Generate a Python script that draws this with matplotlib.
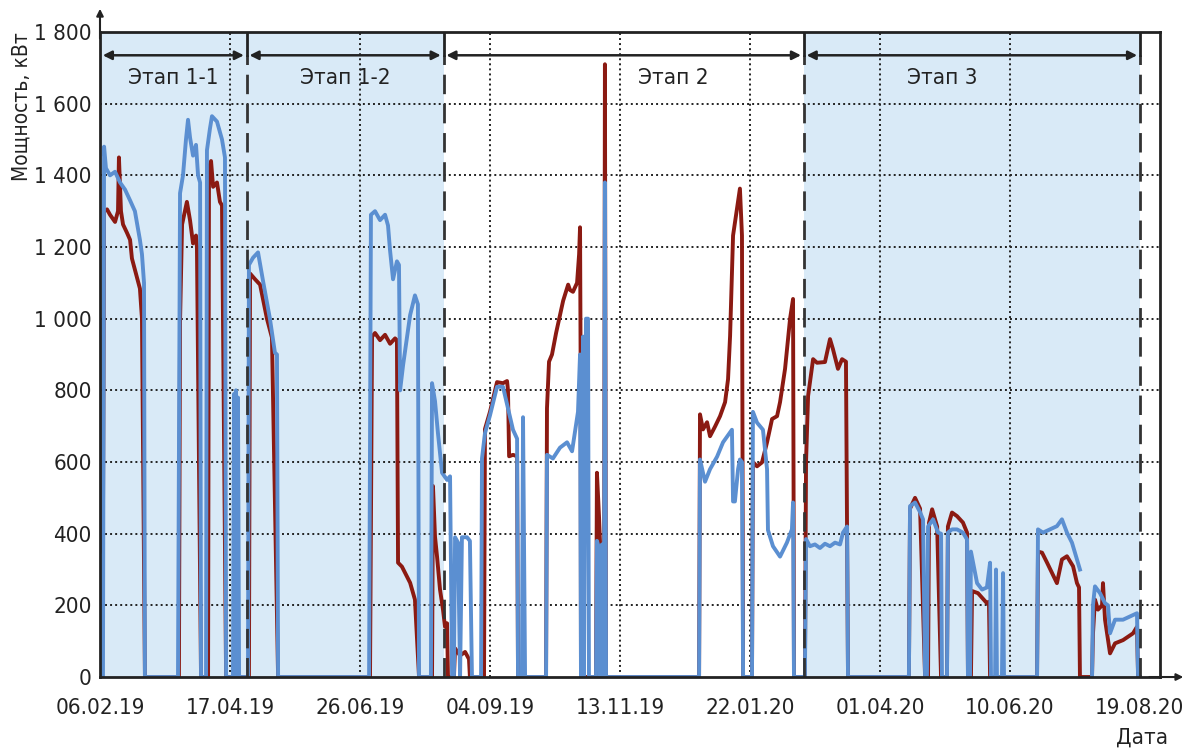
import numpy as np
import pandas as pd
import matplotlib
matplotlib.use('Agg')
import matplotlib.pyplot as plt
import matplotlib.dates as mdates
from matplotlib import font_manager

# a narrow face looks closer to the original; take what is installed
names = {f.name for f in font_manager.fontManager.ttflist}
narrow = [n for n in ['Liberation Sans Narrow', 'DejaVu Sans'] if n in names]
plt.rcParams['font.family'] = narrow + ['DejaVu Sans']
plt.rcParams['font.stretch'] = 'condensed'

# Start of the record (day 0)
start = pd.Timestamp('2019-02-06')

tick_labels = ['06.02.19', '17.04.19', '26.06.19', '04.09.19', '13.11.19',
               '22.01.20', '01.04.20', '10.06.20', '19.08.20']
y_ticks = [0, 200, 400, 600, 800, 1000, 1200, 1400, 1600, 1800]
y_labels = ['0', '200', '400', '600', '800', '1 000', '1 200', '1 400', '1 600', '1 800']

stage_names = ['Этап 1-1', 'Этап 1-2', 'Этап 2', 'Этап 3']
stage_edges = ['2019-02-06', '2019-04-26', '2019-08-10', '2020-02-20', '2020-08-19']
stage_shaded = [True, True, False, True]
stage_label_days = [39.5, 132, 308.6, 453.5]

# Blue series: days since start, kW
blue_days = [0, 1.6, 2.2, 3.2, 5.4, 8.1, 10.8, 13.5, 16.2, 18.8, 21.5, 22.6, 23.7, 24.2,
             42.0, 43.1, 44.7, 46.3, 47.4, 48.5, 50.1, 51.7, 52.8, 53.9, 54.4,
             57.1, 57.6, 59.2, 60.3, 63.0, 65.7, 67.3, 67.9,
             71.6, 72.2, 72.7, 73.2, 73.8, 74.3, 74.9,
             79.7, 80.2, 82.4, 85.1, 87.8, 91.5, 94.2, 95.3, 95.9,
             144.9, 145.9, 148.1, 150.8, 153.5, 155.1, 156.2, 157.8, 159.9, 161.0, 161.6, 163.2,
             167.0, 169.6, 171.2, 171.8,
             178.2, 178.8, 180.4, 182.0, 184.2, 186.9, 188.5, 189.6,
             190.6, 191.2, 192.8, 193.9, 194.9, 197.6, 199.2, 200.3,
             205.2, 205.7, 207.3, 210.0, 213.8, 217.0, 219.7, 222.4, 224.6, 225.1, 227.2, 227.8, 228.9,
             240.2, 240.7, 243.9, 247.7, 251.5, 254.2, 255.8, 257.4, 258.5, 259.0, 260.1, 260.6,
             261.7, 262.8, 263.3,
             267.1, 267.6, 268.7, 269.3, 270.3, 270.9, 271.4, 271.9, 272.5,
             322.6, 323.1, 325.8, 328.5, 332.3, 335.5, 339.3, 340.3, 340.9, 341.9, 343.6, 344.6, 345.7, 346.3,
             351.1, 351.6, 353.8, 357.0, 359.2, 359.7, 362.4, 366.2, 369.9, 372.6, 373.2, 373.7,
             379.6, 380.2, 382.3, 385.0, 387.7, 390.4, 393.1, 395.8, 398.5, 400.1, 402.3, 402.8,
             435.6, 436.2, 438.9, 441.6, 443.2, 444.3,
             445.3, 445.9, 448.6, 451.3, 452.9, 453.4,
             456.1, 456.6, 458.8, 461.5, 464.7, 466.9, 467.4, 468.5, 469.0, 472.3, 475.0, 477.6,
             479.3, 479.8, 482.0, 482.5, 483.0, 485.7, 486.3, 486.8,
             504.6, 505.1, 507.8, 511.6, 515.3, 518.0, 520.7, 523.4, 526.1, 527.7, 527.9,
             534.2, 534.7, 535.8, 538.5, 541.2, 542.8, 543.9, 546.6, 550.9, 554.7, 558.4, 559.0, 560.0]
blue_kw = [0, 0, 1480, 1420, 1400, 1410, 1380, 1360, 1330, 1300, 1220, 1180, 1100, 0,
           0, 1350, 1400, 1500, 1555, 1505, 1455, 1485, 1400, 1380, 0,
           0, 1470, 1530, 1565, 1550, 1500, 1450, 0,
           0, 790, 0, 800, 0, 780, 0,
           0, 1150, 1170, 1185, 1105, 1000, 905, 900, 0,
           0, 1290, 1300, 1275, 1290, 1260, 1190, 1110, 1160, 1150, 800, 870,
           1010, 1065, 1040, 0,
           0, 820, 770, 680, 570, 550, 560, 0,
           0, 390, 375, 0, 390, 390, 380, 0,
           0, 610, 680, 730, 810, 810, 750, 690, 665, 0, 0, 725, 0,
           0, 620, 610, 640, 655, 630, 685, 740, 900, 0, 950, 0,
           1000, 1000, 0,
           0, 380, 360, 0, 370, 0, 0, 1380, 0,
           0, 607, 545, 580, 615, 655, 683, 690, 490, 490, 580, 607, 600, 0,
           0, 740, 710, 690, 580, 410, 365, 336, 375, 412, 487, 0,
           0, 385, 365, 370, 360, 372, 365, 375, 370, 403, 420, 0,
           0, 477, 487, 460, 440, 0,
           0, 420, 440, 403, 400, 0,
           0, 403, 412, 412, 403, 384, 0, 0, 350, 262, 244, 250,
           319, 0, 0, 300, 0, 0, 290, 0,
           0, 412, 403, 412, 421, 440, 403, 375, 328, 300, np.nan,
           0, 200, 253, 234, 206, 200, 122, 160, 160, 169, 178, 0, 0]

# Dark red series: days since start, kW
red_days = [0, 1.6, 2.2, 3.8, 5.4, 8.1, 9.7, 10.2, 11.3, 12.4, 14.5, 16.2, 17.2, 19.9, 21.5, 22.6, 24.2,
            42.5, 43.1, 44.2, 46.8, 48.5, 50.1, 51.7, 52.2, 54.4,
            58.2, 58.7, 59.8, 60.9, 63.0, 64.6, 65.7, 67.9,
            80.2, 80.8, 83.5, 86.2, 89.9, 92.6, 95.9,
            145.4, 146.5, 148.1, 150.8, 153.5, 156.2, 158.9, 159.9, 160.5, 162.6, 165.3, 167.0, 169.6, 171.8,
            178.8, 179.3, 180.4, 181.5, 183.1, 184.7, 185.8, 186.9, 187.4,
            190.6, 191.2, 193.9, 196.6, 198.7, 199.2,
            206.8, 207.3, 210.0, 213.8, 217.0, 219.2, 219.7, 220.3, 222.4, 224.6, 225.1,
            240.2, 240.7, 241.8, 243.4, 245.6, 247.7, 249.4, 252.1, 253.1, 254.7, 256.9, 258.0, 258.5,
            258.8, 259.0,
            267.1, 267.6, 268.7, 269.3, 269.8, 271.4, 271.9, 272.5,
            322.6, 323.1, 324.7, 326.9, 328.5, 331.2, 333.9, 336.6, 338.2, 339.3, 340.9, 343.0, 344.6,
            345.7, 346.0, 346.3,
            351.1, 351.6, 353.8, 356.5, 359.2, 361.9, 364.6, 366.2, 368.9, 371.6, 373.2, 373.5, 373.7,
            379.6, 380.2, 381.3, 384.0, 386.1, 390.4, 393.1, 394.7, 397.4, 399.6, 401.7, 402.3, 402.8,
            435.6, 436.2, 438.9, 441.6, 444.3,
            445.9, 446.4, 448.1, 450.8, 452.9,
            456.1, 456.6, 458.8, 461.5, 464.7, 466.9, 467.4, 469.0, 469.6, 472.8, 477.6, 478.7, 479.3,
            504.6, 505.1, 507.3, 510.0, 512.7, 515.3, 518.0, 520.7, 524.0, 526.1, 527.2, 527.7,
            534.2, 534.7, 535.8, 537.4, 539.6, 540.1, 541.2, 543.9, 546.6, 550.9, 556.3, 558.4, 559.0, 560.0]
red_kw = [350, 420, 1300, 1305, 1290, 1270, 1300, 1450, 1300, 1263, 1240, 1220, 1168, 1116, 1084, 1000, 0,
          0, 990, 1263, 1326, 1274, 1210, 1232, 1200, 0,
          0, 1420, 1440, 1368, 1380, 1326, 1316, 0,
          0, 1126, 1110, 1095, 1000, 947, 0,
          0, 950, 960, 940, 955, 930, 945, 940, 319, 308, 280, 263, 216, 0,
          0, 533, 392, 336, 244, 188, 140, 150, 0,
          0, 80, 60, 70, 50, 0,
          0, 692, 740, 823, 820, 826, 800, 616, 620, 616, 0,
          0, 750, 880, 900, 960, 1010, 1050, 1095, 1080, 1075, 1100, 1180, 1255,
          900, 0,
          0, 570, 450, 370, 0, 0, 1710, 0,
          0, 733, 691, 711, 672, 699, 728, 767, 831, 952, 1232, 1307, 1363,
          1232, 600, 0,
          0, 600, 588, 599, 655, 720, 728, 767, 860, 1000, 1055, 500, 0,
          0, 600, 784, 887, 877, 879, 943, 915, 860, 887, 880, 420, 0,
          0, 470, 500, 470, 0,
          0, 430, 468, 420, 0,
          0, 420, 459, 449, 431, 403, 0, 0, 240, 234, 206, 210, 0,
          0, 350, 347, 319, 290, 262, 328, 337, 309, 262, 250, 0,
          0, 120, 216, 188, 200, 262, 160, 66, 94, 103, 122, 140, 0, 0]

blue_dates = start + pd.to_timedelta(blue_days, unit='D')
red_dates = start + pd.to_timedelta(red_days, unit='D')
tick_dates = pd.to_datetime(tick_labels, format='%d.%m.%y')
edges = pd.to_datetime(stage_edges)

fig = plt.figure(figsize=(11.89, 7.53), dpi=100)
ax = fig.add_axes([0.0841, 0.1009, 0.8915, 0.8566])

ink = '#222222'
shade = '#d9eaf7'
fs = 16

# stage shading
for i, name in enumerate(stage_names):
    if stage_shaded[i]:
        ax.axvspan(edges[i], edges[i + 1], color=shade, zorder=0, lw=0)

# dotted grid
for y in y_ticks[1:-1]:
    ax.axhline(y, color=ink, lw=1.4, ls=(0, (1, 1.6)), zorder=1)
for d in tick_dates[1:-1]:
    ax.axvline(d, color=ink, lw=1.4, ls=(0, (1, 1.6)), zorder=1)

# data
ax.plot(red_dates, red_kw, color='#8b1a12', lw=2.8, zorder=3)
ax.plot(blue_dates, blue_kw, color='#5b8fd1', lw=2.8, zorder=4)

# stage borders, arrows and names
arrow_y = 1735
for e in edges[1:]:
    ax.plot([e, e], [0, arrow_y], color='#333333', lw=2, dashes=(7, 3.5), zorder=5)
    ax.plot([e, e], [arrow_y, 1800], color=ink, lw=2, zorder=5)
gap = pd.Timedelta(days=1.5)
for i, name in enumerate(stage_names):
    x0 = mdates.date2num(edges[i] + gap)
    x1 = mdates.date2num(edges[i + 1] - gap)
    ax.annotate('', xy=(x1, arrow_y), xytext=(x0, arrow_y),
                arrowprops=dict(arrowstyle='<|-|>', color=ink, lw=1.8,
                                mutation_scale=13, shrinkA=0, shrinkB=0), zorder=6)
    ax.text(start + pd.Timedelta(days=stage_label_days[i]), 1672, name,
            ha='center', va='center', fontsize=fs, color=ink, zorder=6)

ax.set_xlim(start, start + pd.Timedelta(days=570.8))
ax.set_ylim(0, 1800)
ax.set_xticks(tick_dates)
ax.set_xticklabels(tick_labels)
ax.set_yticks(y_ticks)
ax.set_yticklabels(y_labels)
ax.tick_params(axis='both', length=0, labelsize=fs, colors=ink)
ax.tick_params(axis='x', pad=15)
ax.tick_params(axis='y', pad=6)

for s in ax.spines.values():
    s.set_color(ink)
    s.set_linewidth(2)
    s.set_zorder(7)

# axis arrows
ax.annotate('', xy=(0, 1.036), xycoords='axes fraction', xytext=(0, 0.99),
            arrowprops=dict(arrowstyle='-|>', color=ink, lw=1.5, mutation_scale=10,
                            shrinkA=0, shrinkB=0))
ax.annotate('', xy=(1.022, 0), xycoords='axes fraction', xytext=(0.99, 0),
            arrowprops=dict(arrowstyle='-|>', color=ink, lw=1.5, mutation_scale=10,
                            shrinkA=0, shrinkB=0))

ax.set_ylabel('Мощность, кВт', fontsize=15, color=ink, loc='top', labelpad=2)
fig.text(1142 / 1189, 1 - 738 / 753, 'Дата', ha='center', va='center', fontsize=fs, color=ink)

fig.savefig('out.png', dpi=100)
